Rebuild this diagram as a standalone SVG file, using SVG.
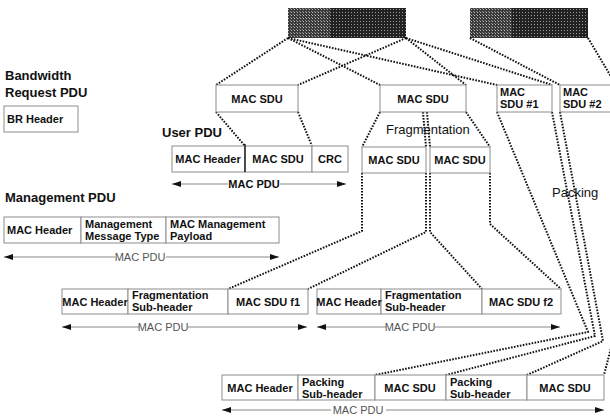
<svg xmlns="http://www.w3.org/2000/svg" width="610" height="418" viewBox="0 0 610 418">
  <style>
    .box { fill: #fff; stroke: #8c8c8c; stroke-width: 1; }
    .t { font-family: "Liberation Sans", Arial, sans-serif; font-weight: bold; font-size: 11px; fill: #111; }
    .c { text-anchor: middle; }
    .ttl { font-family: "Liberation Sans", Arial, sans-serif; font-weight: bold; font-size: 13px; fill: #111; }
    .lab { font-family: "Liberation Sans", Arial, sans-serif; font-size: 13px; fill: #111; }
    .pdu { font-family: "Liberation Sans", Arial, sans-serif; font-size: 11px; fill: #555; text-anchor: middle; }
    .dot { fill: none; stroke: #111; stroke-width: 2; stroke-dasharray: 1.6 1.4; stroke-linejoin: round; }
    .arw { stroke: #888; stroke-width: 1; fill: none; }
    .sep { stroke: #111; stroke-width: 1.3; }
  </style>
  <defs>
    <pattern id="halftone" width="3" height="3" patternUnits="userSpaceOnUse">
      <rect width="3" height="3" fill="#222"/>
      <rect width="1" height="1" fill="#999"/>
    </pattern>
    <pattern id="halftone-light" width="3" height="3" patternUnits="userSpaceOnUse">
      <rect width="3" height="3" fill="#3a3a3a"/>
      <rect width="1" height="1" fill="#bbb"/>
      <rect x="2" y="2" width="1" height="1" fill="#888"/>
    </pattern>
    <marker id="head" viewBox="0 0 9 6" refX="9" refY="3" markerWidth="9" markerHeight="6" markerUnits="userSpaceOnUse" orient="auto-start-reverse">
      <path d="M0,0 L9,3 L0,6 z" fill="#111"/>
    </marker>
  </defs>

  <rect width="610" height="418" fill="#fff"/>

  <!-- upper-layer data blocks -->
  <g id="data1">
    <rect x="288" y="8" width="118" height="30" fill="url(#halftone)"/>
    <rect x="288" y="8" width="42" height="30" fill="url(#halftone-light)"/>
  </g>
  <g id="data2">
    <rect x="470" y="8" width="118" height="30" fill="url(#halftone)"/>
    <rect x="470" y="8" width="42" height="30" fill="url(#halftone-light)"/>
  </g>

  <!-- connectors -->
  <g id="connectors">
    <path class="dot" d="M288,38 L216,85"/>
    <path class="dot" d="M288,38 L380,85"/>
    <path class="dot" d="M288,38 L497,85"/>
    <path class="dot" d="M406,38 L298,85"/>
    <path class="dot" d="M406,38 L466,85"/>
    <path class="dot" d="M406,38 L552,85"/>
    <path class="dot" d="M470,38 L560,85"/>
    <path class="dot" d="M588,38 L616,85"/>

    <path class="dot" d="M216,112 L245,146"/>
    <path class="dot" d="M298,112 L312,146"/>
    <path class="dot" d="M380,112 L362,147"/>
    <path class="dot" d="M423,112 L426,147"/>
    <path class="dot" d="M427,112 L430,147"/>
    <path class="dot" d="M466,112 L490,147"/>

    <path class="dot" d="M362,173 L362,231 L228,289"/>
    <path class="dot" d="M426,173 L426,232 L308,289"/>
    <path class="dot" d="M430,173 L430,232 L482,289"/>
    <path class="dot" d="M490,173 L490,224 L561,289"/>

    <path class="dot" d="M497,112 L588,332 L375,375"/>
    <path class="dot" d="M552,112 L595,336 L446,375"/>
    <path class="dot" d="M560,112 L603,341 L527,375"/>
    <path class="dot" d="M616,112 L611,348 L604,375"/>

    <!-- PDU extent arrows -->
    <line class="arw" x1="228" y1="184" x2="172" y2="184" marker-end="url(#head)"/>
    <line class="arw" x1="280" y1="184" x2="346" y2="184" marker-end="url(#head)"/>
    <line class="arw" x1="115" y1="257" x2="4" y2="257" marker-end="url(#head)"/>
    <line class="arw" x1="166" y1="257" x2="279" y2="257" marker-end="url(#head)"/>
    <line class="arw" x1="139" y1="327" x2="62" y2="327" marker-end="url(#head)"/>
    <line class="arw" x1="188" y1="327" x2="307" y2="327" marker-end="url(#head)"/>
    <line class="arw" x1="386" y1="327" x2="317" y2="327" marker-end="url(#head)"/>
    <line class="arw" x1="435" y1="327" x2="560" y2="327" marker-end="url(#head)"/>
    <line class="arw" x1="331" y1="410" x2="222" y2="410" marker-end="url(#head)"/>
    <line class="arw" x1="386" y1="410" x2="604" y2="410" marker-end="url(#head)"/>
  </g>

  <!-- bandwidth request PDU -->
  <g id="bw-request">
    <text class="ttl" x="5" y="80">Bandwidth</text>
    <text class="ttl" x="5" y="97">Request PDU</text>
    <rect class="box" x="4" y="106" width="74" height="26"/>
    <text class="t" x="7" y="123">BR Header</text>
  </g>

  <!-- SDUs -->
  <g id="sdu-user">
    <rect class="box" x="216" y="85" width="82" height="27"/>
    <text class="t c" x="257" y="103">MAC SDU</text>
  </g>
  <g id="sdu-frag">
    <rect class="box" x="380" y="85" width="86" height="27"/>
    <text class="t c" x="423" y="103">MAC SDU</text>
  </g>
  <g id="sdu-1">
    <rect class="box" x="497" y="85" width="55" height="27"/>
    <text class="t" x="500" y="96">MAC</text>
    <text class="t" x="500" y="108">SDU #1</text>
  </g>
  <g id="sdu-2">
    <rect class="box" x="560" y="85" width="56" height="27"/>
    <text class="t" x="563" y="96">MAC</text>
    <text class="t" x="563" y="108">SDU #2</text>
  </g>

  <!-- user PDU -->
  <g id="user-pdu">
    <text class="ttl" x="162" y="137">User PDU</text>
    <rect class="box" x="172" y="146" width="73" height="26"/>
    <rect class="box" x="245" y="146" width="67" height="26"/>
    <rect class="box" x="312" y="146" width="36" height="26"/>
    <line class="sep" x1="245" y1="144" x2="245" y2="172"/>
    <text class="t c" x="208" y="163">MAC Header</text>
    <text class="t c" x="278" y="163">MAC SDU</text>
    <text class="t c" x="330" y="163">CRC</text>
    <text class="t c" x="254" y="188">MAC PDU</text>
  </g>

  <!-- fragmentation -->
  <g id="fragments">
    <text class="lab" x="386" y="134">Fragmentation</text>
    <rect class="box" x="362" y="147" width="64" height="26"/>
    <rect class="box" x="430" y="147" width="60" height="26"/>
    <text class="t c" x="394" y="164">MAC SDU</text>
    <text class="t c" x="460" y="164">MAC SDU</text>
  </g>

  <text class="lab" x="552" y="197">Packing</text>

  <!-- management PDU -->
  <g id="mgmt-pdu">
    <text class="ttl" x="5" y="202">Management PDU</text>
    <rect class="box" x="4" y="217" width="77" height="26"/>
    <rect class="box" x="81" y="217" width="85" height="26"/>
    <rect class="box" x="166" y="217" width="113" height="26"/>
    <text class="t" x="7" y="234">MAC Header</text>
    <text class="t" x="85" y="228">Management</text>
    <text class="t" x="85" y="240">Message Type</text>
    <text class="t" x="170" y="228">MAC Management</text>
    <text class="t" x="170" y="240">Payload</text>
    <text class="pdu" x="140" y="261">MAC PDU</text>
  </g>

  <!-- fragment PDU 1 -->
  <g id="frag-pdu-1">
    <rect class="box" x="62" y="289" width="66" height="25"/>
    <rect class="box" x="128" y="289" width="100" height="25"/>
    <rect class="box" x="228" y="289" width="80" height="25"/>
    <text class="t c" x="95" y="306">MAC Header</text>
    <text class="t" x="132" y="299">Fragmentation</text>
    <text class="t" x="132" y="311">Sub-header</text>
    <text class="t c" x="268" y="306">MAC SDU f1</text>
    <text class="pdu" x="163" y="331">MAC PDU</text>
  </g>

  <!-- fragment PDU 2 -->
  <g id="frag-pdu-2">
    <rect class="box" x="317" y="289" width="64" height="25"/>
    <rect class="box" x="381" y="289" width="101" height="25"/>
    <rect class="box" x="482" y="289" width="79" height="25"/>
    <text class="t c" x="349" y="306">MAC Header</text>
    <text class="t" x="385" y="299">Fragmentation</text>
    <text class="t" x="385" y="311">Sub-header</text>
    <text class="t c" x="521" y="306">MAC SDU f2</text>
    <text class="pdu" x="410" y="331">MAC PDU</text>
  </g>

  <!-- packed PDU -->
  <g id="packed-pdu">
    <rect class="box" x="222" y="375" width="76" height="25"/>
    <rect class="box" x="298" y="375" width="77" height="25"/>
    <rect class="box" x="375" y="375" width="71" height="25"/>
    <rect class="box" x="446" y="375" width="81" height="25"/>
    <rect class="box" x="527" y="375" width="77" height="25"/>
    <text class="t c" x="260" y="392">MAC Header</text>
    <text class="t" x="302" y="386">Packing</text>
    <text class="t" x="302" y="398">Sub-header</text>
    <text class="t c" x="410" y="392">MAC SDU</text>
    <text class="t" x="450" y="386">Packing</text>
    <text class="t" x="450" y="398">Sub-header</text>
    <text class="t c" x="565" y="392">MAC SDU</text>
    <text class="pdu" x="358" y="414">MAC PDU</text>
  </g>
</svg>
